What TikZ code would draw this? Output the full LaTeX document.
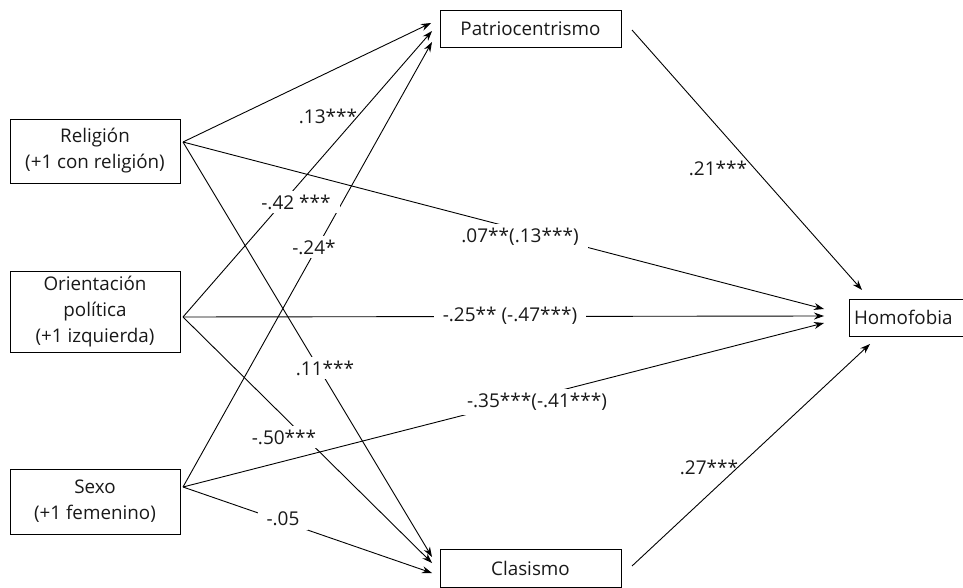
\documentclass[tikz,border=0pt]{standalone}
\usepackage{fontspec}
\setmainfont{Open Sans}
\usetikzlibrary{arrows.meta}
\begin{document}
\begin{tikzpicture}[x=1pt,y=-1pt,
  box/.style={draw,line width=0.9pt,align=center,inner sep=0pt,font=\fontsize{18.8}{26}\selectfont,text=black!90},
  arr/.style={line width=0.9pt,-{Stealth[length=10pt,width=7pt]}},
  lbl/.style={font=\fontsize{19}{21}\selectfont,text=black!90,inner sep=1pt},
  lblw/.style={lbl,fill=white,inner xsep=9pt,inner ysep=4pt}]
\useasboundingbox (0,0) rectangle (963,588);
\clip (0,0) rectangle (963,588);
% boxes
\node[box,minimum width=170pt,minimum height=64pt] (rel) at (95,151) {Religión\\(+1 con religión)};
\node[box,minimum width=170pt,minimum height=81pt] (ori) at (95,311.5) {Orientación\\política\\(+1 izquierda)};
\node[box,minimum width=170pt,minimum height=65pt] (sex) at (95,501.5) {Sexo\\(+1 femenino)};
\node[box,minimum width=181pt,minimum height=37pt] (pat) at (530.5,28.5) {Patriocentrismo};
\node[box,minimum width=181pt,minimum height=38pt] (cla) at (530.5,568) {Clasismo};
\node[box,minimum width=122pt,minimum height=37pt,text width=112pt,align=left] (hom) at (910,317.5) {Homofobia};
% connector ends
\coordinate (relO) at (183,142);
\coordinate (oriO) at (183,317);
\coordinate (sexO) at (183,487);
\coordinate (patI1) at (431,23);
\coordinate (patI2) at (432,31);
\coordinate (patI3) at (432,42);
\coordinate (claI1) at (432,557);
\coordinate (claI2) at (432,563);
\coordinate (claI3) at (432,573);
\coordinate (homI1) at (824,309);
\coordinate (homI2) at (824,316);
\coordinate (homI3) at (824,323);
\coordinate (patO) at (632,30);
\coordinate (homT) at (862,290);
\coordinate (claO) at (632,566);
\coordinate (homB) at (870,344);
% connectors
\draw[arr] (relO) -- (patI1);
\draw[arr] (oriO) -- (patI2);
\draw[arr] (sexO) -- (patI3);
\draw[arr] (relO) -- (claI1);
\draw[arr] (oriO) -- (claI2);
\draw[arr] (sexO) -- (claI3);
\draw[arr] (relO) -- (homI1);
\draw[arr] (oriO) -- (homI2);
\draw[arr] (sexO) -- (homI3);
\draw[arr] (patO) -- (homT);
\draw[arr] (claO) -- (homB);
% labels
\node[lbl] (l1) at (328,116) {.13***};
\node[lblw] (l2) at (296,202) {-.42 ***};
\node[lblw] (l3) at (314,247) {-.24*};
\node[lblw] (l4) at (520,237) {.07**(.13***)};
\node[lblw] (l5) at (510,316) {-.25** (-.47***)};
\node[lblw] (l6) at (325,368) {.11***};
\node[lblw] (l7) at (537,402) {-.35***(-.41***)};
\node[lblw] (l8) at (284,437) {-.50***};
\node[lblw] (l9) at (283,519) {-.05};
\node[lbl] (l10) at (718,168) {.21***};
\node[lbl] (l11) at (709,467) {.27***};
\end{tikzpicture}
\end{document}
